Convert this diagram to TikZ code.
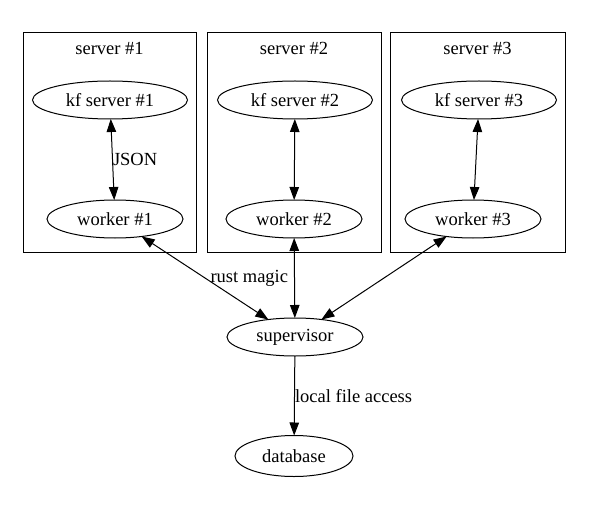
\documentclass[tikz,border=0pt]{standalone}
\usepackage{fontspec}
\setmainfont{Liberation Serif}
\usepackage{tikz}
\usetikzlibrary{arrows.meta,shapes.geometric}
\tikzset{
  gvnode/.style={draw, ellipse, line width=1pt, inner sep=0pt, outer sep=0pt,
    minimum height=38pt},
  gvedge/.style={line width=1pt, -{Triangle[length=13pt,width=9.5pt]}},
  gvboth/.style={line width=1pt, {Triangle[length=13pt,width=9.5pt]}-{Triangle[length=13pt,width=9.5pt]}},
  gvlabel/.style={inner sep=0pt, anchor=west}
}

\begin{document}
\begin{tikzpicture}[x=1pt, y=-1pt, font=\fontsize{18.5}{22}\selectfont]
  \useasboundingbox (0,0) rectangle (591,505);
  % ---- clusters: one box per server ----
  \draw[line width=1pt] (23.5,32.5) rectangle (196,252.5);
  \draw[line width=1pt] (207,32.5) rectangle (381,252.5);
  \draw[line width=1pt] (390,32.5) rectangle (565,252.5);
  \node (lbl1) at (109.5,48) {server \#1};
  \node (lbl2) at (294,48) {server \#2};
  \node (lbl3) at (477.5,48) {server \#3};
  % ---- nodes ----
  \node[gvnode, minimum width=155pt] (kf1) at (110,100) {kf server \#1};
  \node[gvnode, minimum width=155pt] (kf2) at (295,100) {kf server \#2};
  \node[gvnode, minimum width=155pt] (kf3) at (479,100) {kf server \#3};
  \node[gvnode, minimum width=136pt] (w1) at (115,219) {worker \#1};
  \node[gvnode, minimum width=136pt] (w2) at (294,219) {worker \#2};
  \node[gvnode, minimum width=136pt] (w3) at (473,219) {worker \#3};
  \node[gvnode, minimum width=136pt] (sup) at (295,337) {supervisor};
  \node[gvnode, minimum width=118pt, minimum height=41pt] (db) at (294,456) {database};
  % ---- edges ----
  \draw[gvboth] (kf1) -- node[gvlabel] {JSON} (w1);
  \draw[gvboth] (kf2) -- (w2);
  \draw[gvboth] (kf3) -- (w3);
  \draw[gvboth] (w1) -- node[gvlabel, xshift=5pt] {rust magic} (sup);
  \draw[gvboth] (w2) -- (sup);
  \draw[gvboth] (w3) -- (sup);
  \draw[gvedge] (sup) -- node[gvlabel] {local file access} (db);
\end{tikzpicture}
\end{document}
